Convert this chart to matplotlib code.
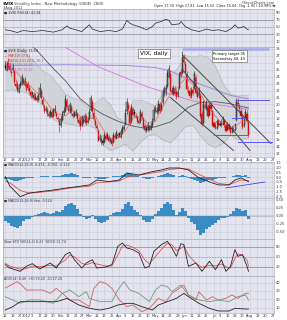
import matplotlib
matplotlib.use('Agg')
import matplotlib.pyplot as plt
import numpy as np
import pandas as pd

# ---------------- data ----------------
close = [
25.2, 25.8, 25.4, 24.9, 24.6, 25.3, 23.2, 22.6, 22.1, 22.4,
23.0, 23.9, 23.1, 23.4, 22.8, 22.4, 21.9, 21.2, 21.5, 20.8,
21.1, 20.6, 21.2, 22.4, 21.0, 19.9, 19.0, 19.3, 18.6, 18.3,
18.9, 18.2, 19.1, 19.4, 18.3, 17.9, 17.1, 17.9, 18.6, 19.0,
20.8, 19.6, 19.2, 19.9, 18.9, 18.3, 18.6, 18.9, 17.9, 17.3,
16.9, 18.2, 17.4, 18.4, 17.3, 17.7, 18.9, 20.9, 19.0, 17.9,
17.1, 16.6, 14.8, 15.3, 14.5, 14.5, 15.6, 15.1, 15.6, 14.8,
14.9, 14.3, 15.6, 15.3, 15.9, 15.5, 15.6, 16.1, 16.6, 16.7,
18.8, 20.4, 19.3, 17.2, 19.6, 18.5, 18.6, 18.4, 17.6, 17.4,
18.9, 18.1, 16.8, 16.3, 16.3, 17.1, 16.4, 16.9, 17.6, 19.2,
19.0, 19.1, 20.1, 19.0, 19.9, 21.9, 22.0, 22.3, 24.5, 25.1,
22.0, 22.0, 22.3, 21.5, 21.1, 21.8, 24.2, 24.1, 26.7, 26.1,
24.7, 22.2, 21.7, 21.2, 22.0, 21.7, 24.3, 21.7, 21.1, 22.0,
18.3, 17.2, 20.1, 19.6, 20.1, 18.3, 19.7, 19.4, 17.1, 16.8,
16.7, 17.5, 17.1, 17.1, 17.0, 17.9, 17.0, 16.2, 17.1, 16.5,
16.0, 16.5, 16.3, 17.1, 20.5, 20.0, 19.3, 18.3, 16.7, 18.0,
18.9, 17.6, 15.6]
open_ = [
25.6, 25.0, 26.0, 25.6, 24.5, 24.9, 24.6, 23.0, 22.9, 21.8,
22.6, 23.0, 23.6, 22.8, 22.1, 22.9, 22.3, 21.8, 21.6, 21.3,
21.0, 20.9, 20.7, 21.3, 22.0, 20.7, 19.6, 19.2, 19.2, 18.6,
18.5, 18.9, 18.4, 19.0, 18.7, 18.0, 17.6, 17.0, 17.8, 18.8,
19.1, 20.5, 19.3, 19.0, 19.7, 18.7, 18.4, 18.5, 18.6, 17.8,
17.6, 17.0, 17.9, 17.6, 18.2, 17.5, 18.0, 19.2, 20.4, 18.8,
17.7, 16.9, 16.2, 15.0, 15.0, 14.8, 14.6, 15.5, 15.2, 15.4,
14.9, 15.0, 14.6, 15.5, 15.2, 15.6, 15.7, 15.4, 16.0, 16.5,
17.2, 19.0, 19.9, 19.1, 17.6, 19.3, 18.9, 18.2, 18.2, 17.6,
17.6, 18.7, 17.9, 16.9, 16.5, 16.4, 16.9, 16.5, 17.0, 17.8,
19.5, 18.9, 19.0, 20.0, 19.2, 20.3, 21.7, 21.6, 22.6, 24.0,
24.4, 21.8, 21.6, 22.2, 21.8, 21.3, 22.4, 24.6, 24.5, 26.8,
25.8, 24.4, 22.0, 21.9, 21.3, 22.1, 22.4, 23.8, 21.9, 21.3,
21.2, 18.6, 17.4, 19.8, 19.5, 19.8, 18.5, 19.9, 19.0, 17.3,
16.9, 16.6, 17.6, 17.2, 17.4, 17.2, 17.6, 17.1, 16.4, 17.0,
16.6, 16.1, 16.4, 16.4, 17.8, 20.2, 19.6, 19.1, 18.2, 17.0,
18.3, 18.6, 17.4]
high = [
26.2, 26.3, 26.6, 26.1, 25.3, 25.9, 25.0, 23.6, 23.3, 22.9,
23.4, 24.4, 24.0, 23.9, 23.2, 23.3, 22.8, 22.1, 22.0, 21.8,
21.6, 21.4, 21.6, 23.1, 22.4, 21.1, 20.0, 19.8, 19.6, 19.0,
19.3, 19.3, 19.5, 19.9, 19.0, 18.4, 18.0, 18.4, 19.0, 19.6,
21.4, 20.9, 19.9, 20.4, 20.1, 19.0, 19.1, 19.4, 18.9, 18.2,
18.2, 18.5, 18.3, 18.8, 18.6, 18.2, 19.4, 21.3, 20.8, 19.2,
18.0, 17.3, 16.6, 15.8, 15.6, 15.2, 16.0, 15.9, 16.0, 15.6,
15.4, 15.3, 16.0, 15.9, 16.3, 16.0, 16.1, 16.5, 17.0, 17.2,
19.3, 20.9, 20.4, 19.5, 20.0, 19.6, 19.4, 18.8, 18.5, 18.1,
19.4, 19.1, 18.2, 17.3, 16.9, 17.5, 17.1, 17.3, 18.0, 19.8,
19.9, 19.6, 20.6, 20.4, 20.3, 22.4, 22.6, 22.9, 25.0, 25.6,
24.9, 22.5, 22.8, 22.6, 22.2, 22.3, 24.7, 25.1, 27.7, 27.2,
26.3, 24.8, 22.6, 22.4, 22.5, 22.6, 24.8, 24.2, 22.3, 22.5,
21.6, 19.0, 20.6, 20.4, 20.6, 20.0, 20.2, 20.3, 19.2, 17.7,
17.3, 17.9, 17.9, 17.6, 17.8, 18.3, 17.9, 17.4, 17.5, 17.3,
16.9, 16.9, 16.8, 17.4, 20.9, 20.9, 20.1, 19.5, 18.6, 18.3,
19.4, 19.2, 17.8]
low = [
25.0, 24.8, 25.1, 24.6, 24.1, 24.6, 23.0, 22.4, 21.8, 21.6,
22.4, 22.8, 22.9, 22.6, 22.0, 22.0, 21.7, 21.0, 21.1, 20.6,
20.7, 20.4, 20.5, 21.1, 20.8, 19.7, 18.8, 18.9, 18.4, 18.1,
18.2, 18.0, 18.2, 18.8, 18.1, 17.6, 16.0, 16.8, 17.6, 18.5,
18.9, 19.4, 18.9, 18.8, 18.7, 18.1, 18.2, 18.3, 17.7, 17.1,
16.3, 16.9, 17.2, 17.4, 17.1, 17.3, 17.8, 19.0, 18.8, 17.6,
16.9, 16.4, 14.7, 14.8, 14.2, 14.2, 14.5, 14.9, 15.0, 14.6,
14.6, 14.1, 14.5, 15.1, 15.0, 15.2, 15.4, 15.2, 15.8, 16.3,
17.0, 18.7, 19.1, 17.0, 17.4, 18.3, 18.3, 18.0, 17.4, 17.2,
17.4, 17.9, 16.6, 16.1, 16.0, 16.2, 16.2, 16.3, 16.8, 17.6,
18.8, 18.6, 18.8, 18.8, 19.0, 20.1, 21.2, 21.3, 22.4, 23.8,
21.8, 21.5, 21.3, 21.3, 20.8, 21.1, 22.2, 23.8, 24.3, 25.8,
24.5, 22.0, 21.5, 20.9, 21.0, 21.4, 22.2, 21.5, 20.9, 21.0,
18.1, 16.9, 17.2, 19.3, 19.2, 18.1, 18.3, 19.1, 16.9, 16.6,
16.5, 16.5, 16.9, 16.9, 16.8, 17.0, 16.8, 16.0, 16.3, 16.3,
15.8, 15.9, 16.1, 16.2, 17.6, 19.7, 19.1, 18.1, 16.5, 16.8,
18.0, 17.4, 15.4]

# overlays on price (sparse readings, day index -> value)
bb_idx = [0, 5, 10, 15, 20, 25, 30, 35, 40, 45, 50, 55, 60, 65, 70, 75, 80, 85,
          90, 95, 100, 105, 110, 115, 120, 125, 130, 135, 140, 145, 150, 155, 160, 162]
bb_up = [33.0, 31.5, 29.0, 27.0, 26.0, 24.8, 24.2, 22.9, 21.5, 20.9, 20.6, 19.6,
         20.2, 21.0, 20.0, 18.0, 17.5, 20.5, 20.6, 20.3, 19.7, 21.7, 24.1, 25.2,
         27.0, 26.8, 27.0, 26.8, 25.5, 23.0, 21.5, 21.2, 21.3, 21.3]
bb_lo = [22.0, 22.1, 21.9, 21.6, 20.6, 20.0, 18.2, 17.5, 17.3, 17.1, 16.8, 17.0,
         16.6, 14.2, 13.4, 13.8, 14.3, 13.3, 14.6, 15.5, 15.7, 14.9, 14.5, 15.6,
         16.8, 17.0, 15.5, 14.3, 13.8, 14.4, 15.6, 14.9, 15.1, 15.1]
ma10 = [25.8, 25.3, 24.0, 23.0, 21.9, 21.1, 19.6, 18.6, 18.4, 19.2, 18.3, 17.8,
        18.3, 16.5, 15.0, 15.2, 16.2, 18.0, 18.3, 17.3, 17.6, 19.7, 21.5, 22.5,
        23.8, 22.9, 21.5, 19.7, 18.3, 17.2, 16.7, 17.2, 17.9, 17.6]
ma50_idx = [0, 10, 20, 30, 40, 50, 56, 65, 75, 85, 93, 100, 110, 115, 122, 130, 140, 150, 162]
ma50 = [31.5, 29.5, 28.0, 25.6, 23.4, 20.8, 19.8, 18.6, 17.6, 16.9, 16.6, 16.8,
        17.5, 18.3, 19.6, 20.3, 20.4, 20.1, 19.5]
ma200_idx = [0, 40, 80, 100, 110, 120, 130, 140, 150, 162]
ma200 = [25.6, 25.7, 25.6, 25.3, 24.8, 23.8, 22.9, 22.1, 21.3, 20.8]
ma100_idx = [40, 62, 95, 125, 162]
ma100 = [28.2, 25.4, 22.5, 20.5, 19.3]

rsi_idx = [0, 3, 8, 12, 18, 25, 32, 38, 41, 43, 47, 51, 56, 58, 63, 69, 74, 78, 81, 83,
           85, 89, 94, 98, 100, 104, 107, 109, 111, 116, 117, 120, 124, 129, 134, 138,
           142, 147, 151, 153, 155, 159, 161, 162]
rsi = [42, 40, 34.5, 40, 37, 40, 35.5, 42, 53, 46.6, 42, 37, 56, 44, 37, 40, 37, 44, 68,
       60.5, 56, 51, 42, 51, 60.5, 65, 71.6, 68, 56, 58.6, 65, 51, 42, 37, 44, 40, 42,
       37, 46.6, 56, 46.6, 51, 44, 42]

macd_idx = [0, 3, 10, 16, 23, 32, 41, 49, 56, 61, 69, 76, 81, 89, 98, 104, 109, 116,
            122, 129, 138, 142, 149, 153, 157, 162]
macd = [0.05, -0.93, -2.06, -1.67, -1.53, -1.36, -1.14, -0.98, -0.82, -0.3, -0.47,
        -0.3, 0.44, 0.23, 0.58, 0.76, 0.97, 0.97, 0.76, -0.08, -0.61, -0.82, -0.82,
        -0.3, -0.08, -0.47]
signal = [-0.4, -0.6, -1.4, -1.7, -1.6, -1.45, -1.2, -1.05, -0.95, -0.6, -0.5, -0.4,
          0.0, 0.2, 0.45, 0.6, 0.8, 0.92, 0.85, 0.3, -0.35, -0.65, -0.8, -0.55, -0.3, -0.35]

hist = [-0.15, -0.22, -0.30, -0.36, -0.37, -0.30, -0.15, -0.10, -0.08, -0.04,
        0.03, 0.06, 0.08, 0.12, 0.09, 0.06, 0.10, 0.15, 0.12, 0.20,
        0.30, 0.36, 0.42, 0.35, 0.22, 0.05, -0.04, -0.08, -0.05, 0.04,
        -0.10, -0.20, -0.23, -0.20, -0.12, 0.02, 0.08, 0.12, 0.14, 0.22,
        0.38, 0.45, 0.32, 0.18, 0.14, 0.02, -0.12, -0.19, -0.18, -0.08,
        0.06, 0.15, 0.25, 0.36, 0.45, 0.38, 0.18, 0.04, 0.14, 0.24,
        0.16, -0.05, -0.18, -0.25, -0.45, -0.60, -0.52, -0.40, -0.35, -0.28,
        -0.22, -0.12, -0.06, -0.05, -0.02, 0.05, 0.15, 0.25, 0.22, 0.15,
        0.18, -0.10]
hist_idx = list(range(0, 163, 2))

sto_idx = [0, 3, 10, 14, 18, 23, 30, 34, 40, 43, 46, 51, 54, 58, 61, 67, 71, 75, 78, 81,
           85, 89, 93, 96, 99, 104, 108, 111, 114, 117, 119, 122, 127, 131, 136, 140,
           144, 147, 150, 153, 155, 158, 161, 162]
sto_k = [26, 16, 6, 21, 29, 13, 31, 16, 56, 63, 41, 16, 31, 41, 16, 19, 26, 81, 91, 76,
         71, 61, 16, 21, 66, 86, 96, 76, 51, 89, 86, 21, 31, 6, 36, 11, 41, 6, 21, 71,
         51, 56, 21, 6]
sto_d = [30, 22, 12, 14, 22, 20, 24, 22, 40, 55, 50, 30, 26, 32, 28, 22, 22, 55, 82, 85,
         78, 68, 40, 28, 45, 72, 90, 86, 68, 75, 82, 55, 30, 18, 24, 22, 28, 20, 16, 45,
         58, 55, 40, 22]

mdi_idx = [0, 8, 11, 14, 18, 25, 30, 34, 38, 43, 49, 56, 59, 63, 67, 71, 76, 81, 85, 91,
           96, 102, 107, 111, 116, 119, 122, 127, 129, 134, 138, 142, 147, 151, 155, 160, 162]
mdi = [33.6, 41.2, 37.2, 31.2, 31.2, 31.2, 27.2, 33.2, 27.2, 19.2, 19.2, 11.2, 33.2,
       41.2, 39.2, 33.2, 19.2, 11.2, 13.2, 5.2, 9.2, 21.2, 17.2, 27.2, 33.2, 37.2, 25.2,
       19.2, 29.2, 19.2, 23.2, 19.2, 21.2, 25.2, 21.2, 27.2, 27.2]
pdi_idx = [0, 5, 10, 16, 23, 32, 38, 43, 49, 54, 56, 63, 71, 75, 79, 83, 89, 96, 100,
           104, 108, 111, 117, 122, 129, 136, 142, 149, 155, 160, 162]
pdi = [23.2, 19.2, 15.2, 19.2, 19.2, 15.2, 27.2, 31.2, 23.2, 29.2, 21.2, 17.2, 17.2,
       31.2, 41.2, 31.2, 27.2, 17.2, 31.2, 37.2, 35.2, 29.2, 37.2, 25.2, 19.2, 17.2,
       19.2, 17.2, 23.2, 25.2, 19.2]
adx_idx = [0, 5, 10, 18, 28, 34, 38, 41, 49, 56, 63, 69, 75, 81, 85, 91, 98, 102, 108,
           114, 119, 122, 129, 136, 142, 149, 153, 160, 162]
adx = [7.2, 11.2, 17.2, 17.2, 17.2, 17.2, 19.2, 21.2, 13.2, 9.2, 7.2, 9.2, 13.2, 15.2,
       15.2, 11.2, 7.2, 13.2, 17.2, 21.2, 27.2, 23.2, 15.2, 9.2, 6.0, 6.0, 9.2, 8.4, 8.4]

holidays = ['2011-12-26', '2012-01-02', '2012-01-16', '2012-02-20', '2012-04-06',
            '2012-05-28', '2012-07-04']

# ---------------- setup ----------------
assert len(close) == len(open_) == len(high) == len(low)
N = len(close)
days = pd.bdate_range('2011-12-12', '2012-08-31')
days = days[~days.isin(pd.to_datetime(holidays))]
idx = np.arange(N)

# weekly ticks
tick_pos, tick_lab = [], []
prev_month = None
wk = days.to_period('W')
for k in range(len(days)):
    if k == 0 or wk[k] != wk[k - 1]:
        d = days[k]
        if prev_month is not None and d.month != prev_month:
            lab = str(d.year) if d.month == 1 else d.strftime('%b')
        else:
            lab = str(d.day)
        prev_month = d.month
        tick_pos.append(k)
        tick_lab.append(lab)

W, H = 287, 320
fig = plt.figure(figsize=(W / 100, H / 100), dpi=100)
fig.patch.set_facecolor('white')
BG = '#e4e4ee'
GRID = '#cbcbda'
XL = (-1.5, 179)
FS = 2.6


def panel(top, bottom, ylim, yticks, ylabels=None, dates=False):
    ax = fig.add_axes([3 / W, 1 - bottom / H, 271 / W, (bottom - top) / H])
    ax.set_facecolor(BG)
    ax.set_xlim(*XL)
    ax.set_ylim(*ylim)
    ax.set_xticks(tick_pos)
    ax.set_xticklabels(tick_lab if dates else [])
    ax.yaxis.tick_right()
    ax.set_yticks(yticks)
    ax.set_yticklabels(ylabels if ylabels is not None else [str(t) for t in yticks])
    ax.tick_params(length=0, labelsize=FS, pad=1, colors='#333344')
    ax.grid(True, color=GRID, lw=0.4)
    ax.set_axisbelow(True)
    for s in ax.spines.values():
        s.set_color('#9a9aaa')
        s.set_linewidth(0.4)
    return ax


# header
fig.text(3 / W, 1 - 3.5 / H, '$VIX', fontsize=3.2, fontweight='bold', va='center')
fig.text(14 / W, 1 - 3.5 / H, 'Volatility Index - New Methodology (CBOE)  CBOE',
         fontsize=2.6, va='center', color='#333')
fig.text(3 / W, 1 - 7.5 / H, '3-Aug-2012', fontsize=2.5, va='center', color='#333')
fig.text(275 / W, 1 - 3 / H, '\u00a9StockCharts.com', fontsize=2.5, va='center',
         ha='right', color='#333')
fig.text(275 / W, 1 - 6.5 / H,
         'Open 17.39  High 17.81  Low 15.52  Close 15.64  Chg -1.93 (-10.98%)\u25bc',
         fontsize=2.4, va='center', ha='right', color='#222')

# RSI panel
ax1 = panel(9, 47, (-6, 100), [10, 30, 50, 70, 90])
ax1.axhline(70, color='#8a8a9a', lw=0.5)
ax1.axhline(30, color='#8a8a9a', lw=0.5)
ax1.axhline(50, color='#8a8a9a', lw=0.4, ls=(0, (3, 2)))
ax1.plot(rsi_idx, rsi, color='#222222', lw=0.5)
ax1.text(0.005, 0.97, '\u25a0 $VIX RSI(14) 41.94', transform=ax1.transAxes,
         fontsize=2.4, va='top', color='#222')

# price panel
ax2 = panel(47, 157, (12.47, 28.24), list(range(13, 29)), dates=True)
ax2.fill_between(bb_idx, bb_lo, bb_up, color='#cdd1d4', alpha=0.8, lw=0)
ax2.plot(bb_idx, bb_up, color='#a8aeb3', lw=0.4)
ax2.plot(bb_idx, bb_lo, color='#a8aeb3', lw=0.4)
ax2.plot(ma200_idx, ma200, color='#9a8ae0', lw=0.7)
ax2.plot(ma100_idx, ma100, color='#e070e0', lw=0.6)
ax2.plot(ma50_idx, ma50, color='#555555', lw=0.6)
ax2.plot(bb_idx, ma10, color='#f07070', lw=0.6)
for i in idx:
    o, c, h, l = open_[i], close[i], high[i], low[i]
    col = '#d01010' if (i > 0 and c < close[i - 1]) else '#111111'
    ax2.vlines(i, l, h, color=col, lw=0.4)
    filled = c < o
    ax2.bar(i, max(abs(c - o), 0.06), bottom=min(o, c), width=0.75,
            color=col if filled else '#f4f4f8', edgecolor=col, linewidth=0.35)
# channel lines
ax2.plot([118, 177], [27.1, 14.4], color='#333333', lw=0.6)
ax2.plot([118, 163], [25.0, 13.4], color='#333333', lw=0.6)
ax2.plot([110, 152], [21.0, 13.4], color='#333333', lw=0.6)
# horizontal markers
ax2.plot([118, 176], [28.0, 28.0], color='#a8a8f0', lw=1.8, solid_capstyle='butt')
ax2.plot([154, 176], [20.6, 20.6], color='#5555ee', lw=0.7)
ax2.plot([151, 160], [18.06, 18.06], color='#5555ee', lw=0.7)
ax2.plot([139, 162], [15.6, 15.6], color='#5555ee', lw=0.7)
ax2.plot([155, 178], [14.6, 14.6], color='#5555ee', lw=0.7)
ax2.text(90, 27.3, 'VIX, daily', fontsize=4.2, va='center', ha='left',
         bbox=dict(boxstyle='square,pad=0.4', fc='white', ec='#555', lw=0.4))
ax2.text(138.5, 27.55, 'Primary target 35\nSecondary 40, 43', fontsize=2.6,
         va='top', ha='left', linespacing=1.3,
         bbox=dict(boxstyle='square,pad=0.4', fc='white', ec='#555', lw=0.4))
leg = [('\u25a0 $VIX (Daily) 15.64', '#222'), ('\u2014 MA(10) 17.61', '#d03030'),
       ('\u2014 BB(20,2.0) 20.3, 15.1', '#d03030'), ('\u2014 MA(200) 20.80', '#8a7ad0'),
       ('\u2014 MA(100) 19.30', '#d060d0')]
for k, (t, c) in enumerate(leg):
    ax2.text(0.005, 0.985 - k * 0.045, t, transform=ax2.transAxes, fontsize=2.3,
             va='top', color=c)

# MACD panel
ax3 = panel(162, 198, (-2.2, 1.6), [-2.0, -1.5, -1.0, -0.5, 0.0, 0.5, 1.0, 1.5],
            ['-2.0', '-1.5', '-1.0', '-0.5', '0.0', '0.5', '1.0', '1.5'])
ax3.bar(hist_idx, hist, width=1.7, color='#3a8cc6', lw=0)
ax3.plot(macd_idx, signal, color='#e05050', lw=0.6)
ax3.plot(macd_idx, macd, color='#222222', lw=0.6)
ax3.plot([147, 173], [-1.14, -0.51], color='#4444ee', lw=0.6)
ax3.text(0.005, 0.97, '\u25a0 MACD(12,26,9) -0.474, -0.350, -0.124',
         transform=ax3.transAxes, fontsize=2.3, va='top', color='#333')

# histogram panel
ax4 = panel(198, 239, (-0.72, 0.5625), [-0.5, -0.25, 0.0, 0.25, 0.5],
            ['-0.50', '-0.25', '0.00', '0.25', '0.50'])
ax4.bar(hist_idx, hist, width=1.7, color='#3a8cc6', lw=0)
ax4.axhline(0, color='#7a7a8a', lw=0.3)
ax4.text(0.005, 0.97, '\u25a0 MACD(12,26,9) Hist -0.124',
         transform=ax4.transAxes, fontsize=2.3, va='top', color='#333')

# stochastic panel
ax5 = panel(239, 276, (-8, 103), [20, 50, 80])
ax5.axhline(80, color='#8a8a9a', lw=0.5)
ax5.axhline(20, color='#8a8a9a', lw=0.5)
ax5.axhline(50, color='#8a8a9a', lw=0.4, ls=(0, (3, 2)))
ax5.plot(sto_idx, sto_d, color='#e05050', lw=0.6)
ax5.plot(sto_idx, sto_k, color='#222222', lw=0.6)
ax5.text(0.005, 0.97, 'Slow STO %K(14,3) 6.21  %D(3) 21.74',
         transform=ax5.transAxes, fontsize=2.3, va='top', color='#333')

# ADX panel
ax6 = panel(276, 313, (3.6, 48), [10, 20, 30, 40], dates=True)
ax6.plot(mdi_idx, mdi, color='#d06060', lw=0.6)
ax6.plot(pdi_idx, pdi, color='#6f9a78', lw=0.6)
ax6.plot(adx_idx, adx, color='#222222', lw=0.6)
ax6.text(0.005, 0.97, 'ADX(14) 8.40  +DI 19.20  -DI 27.20',
         transform=ax6.transAxes, fontsize=2.3, va='top', color='#333')

fig.savefig('out.png', dpi=100, facecolor='white')
